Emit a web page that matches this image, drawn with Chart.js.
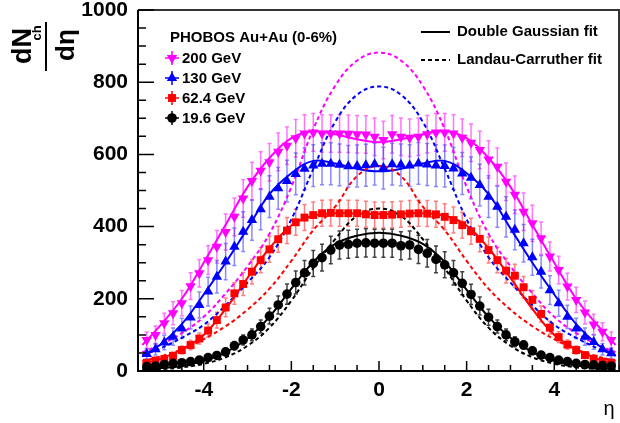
<!DOCTYPE html>
<html>
<head>
<meta charset="utf-8">
<script src="https://cdn.jsdelivr.net/npm/chart.js@4.4.0/dist/chart.umd.min.js"></script>
<style>
html, body { margin: 0; padding: 0; background: #fff; }
</style>
</head>
<body>
<canvas id="c" width="620" height="423"></canvas>
<script>
// bin centres in eta
const eta = [-5.3,-5.1,-4.9,-4.7,-4.5,-4.3,-4.1,-3.9,-3.7,-3.5,-3.3,-3.1,-2.9,-2.7,-2.5,-2.3,-2.1,-1.9,-1.7,-1.5,-1.3,-1.1,-0.9,-0.7,-0.5,-0.3,-0.1,
             0.1,0.3,0.5,0.7,0.9,1.1,1.3,1.5,1.7,1.9,2.1,2.3,2.5,2.7,2.9,3.1,3.3,3.5,3.7,3.9,4.1,4.3,4.5,4.7,4.9,5.1,5.3];

const gev200 = [86,100,132,160,188,235,271,307,344,385,427,478,526,555,578,607,624,645,658,661,658,658,658,657,656,655,649,
                640,656,649,646,649,656,661,661,658,646,632,612,586,566,524,488,441,409,368,317,280,234,197,162,129,109,86];
const gev130 = [47,60,79,95,118,148,183,220,261,303,344,386,418,448,483,506,526,546,560,569,574,574,571,567,568,570,573,
                562,573,571,569,575,572,569,568,561,547,535,515,483,455,427,391,354,315,275,224,188,150,118,95,80,60,49];
const gev62 = [23,29,33,42,58,72,90,112,141,176,215,241,275,307,337,365,389,412,425,432,437,438,437,437,437,434,432,
               432,433,434,436,437,436,434,427,418,404,387,366,335,307,278,264,232,197,158,120,94,73,58,44,34,26,23];
const gev19 = [12,14,18,21,23,26,30,37,43,53,70,86,100,123,152,183,213,245,272,298,314,335,349,351,354,355,354,
               354,354,347,349,337,326,309,294,272,243,212,180,149,123,100,81,72,56,44,37,30,26,21,18,17,15,14];

// systematic errors
const err200 = [22,25,28,32,35,37,38,40,45,50,52,52,52,52,52,52,52,52,52,52,52,52,52,52,52,52,52,
                52,52,52,52,52,52,52,52,52,52,52,52,52,52,52,52,52,50,45,40,38,37,35,32,28,25,22];
const err130 = [14,16,20,24,28,32,36,40,45,50,52,55,56,57,58,58,58,58,58,58,58,58,58,58,58,58,58,
                58,58,58,58,58,58,58,58,58,58,58,58,58,57,56,55,52,50,45,40,36,32,28,24,20,16,14];
const err62 = [6,7,8,9,11,13,15,18,22,26,30,32,34,35,36,36,36,36,36,36,36,36,36,36,36,36,36,
               36,36,36,36,36,36,36,36,36,36,36,36,36,35,34,32,30,26,22,18,15,13,11,9,8,7,6];
const err19 = [3,3,4,4,5,5,6,7,8,10,12,14,16,18,22,25,28,32,34,36,37,38,39,39,39,39,39,
               39,39,39,39,39,38,37,36,34,32,28,25,22,18,16,14,12,10,8,7,6,5,5,4,4,3,3];

// fit curves
const fitEta = [-5.4,-5,-4.5,-4,-3.5,-3,-2.5,-2,-1.5,-1,-0.5,0,0.5,1,1.5,2,2.5,3,3.5,4,4.5,5,5.4];
const dg200 = [72,125,200,300,405,510,590,645,664,656,642,634,642,656,664,645,590,510,405,300,200,125,72];
const lc200 = [52,72,105,150,215,290,380,510,670,790,860,882,860,790,670,510,380,290,215,150,105,72,52];
const dg130 = [42,72,130,212,300,395,490,548,582,575,560,553,560,575,582,548,490,395,300,212,130,72,42];
const lc130 = [44,62,92,128,182,245,315,420,560,690,765,788,765,690,560,420,315,245,182,128,92,62,44];
const dg62 = [20,33,60,100,172,258,340,403,430,437,436,435,436,437,430,403,340,258,172,100,60,33,20];
const lc62 = [27,40,60,88,124,170,228,305,390,455,540,568,540,455,390,305,228,170,124,88,60,40,27];
const dg19 = [5,8,14,28,52,90,150,228,302,352,375,383,375,352,302,225,150,92,52,28,15,8,5];
const lc19 = [3,5,10,20,38,70,120,195,285,365,430,450,430,365,285,195,120,70,38,20,10,5,3];

const labels = ['200 GeV', '130 GeV', '62.4 GeV', '19.6 GeV'];
const xTicks = [-4, -2, 0, 2, 4];
const yTicks = [0, 200, 400, 600, 800, 1000];

const FONT = '"Liberation Sans", Arial, sans-serif';

const series = [
    { label: labels[3], vals: gev19, err: err19, color: '#000000', errColor: 'rgba(0,0,0,0.75)', style: 'circle', rot: 0, r: 4.8 },
    { label: labels[2], vals: gev62, err: err62, color: '#ff0000', errColor: 'rgba(255,40,40,0.6)', style: 'rect', rot: 0, r: 5.6 },
    { label: labels[1], vals: gev130, err: err130, color: '#0000ff', errColor: 'rgba(40,40,255,0.55)', style: 'triangle', rot: 0, r: 6 },
    { label: labels[0], vals: gev200, err: err200, color: '#ff00ff', errColor: 'rgba(255,0,255,0.55)', style: 'triangle', rot: 180, r: 6 }
];
const fits = [
    { vals: dg19, color: '#000000', dash: [] }, { vals: lc19, color: '#000000', dash: [4, 3] },
    { vals: dg62, color: '#ff0000', dash: [] }, { vals: lc62, color: '#ff0000', dash: [4, 3] },
    { vals: dg130, color: '#0000ff', dash: [] }, { vals: lc130, color: '#0000ff', dash: [4, 3] },
    { vals: dg200, color: '#ff00ff', dash: [] }, { vals: lc200, color: '#ff00ff', dash: [4, 3] }
];

const datasets = [];
series.forEach(s => {
    datasets.push({
        label: s.label,
        data: eta.map((e, i) => ({ x: e, y: s.vals[i] })),
        errors: s.err,
        errColor: s.errColor,
        showLine: false,
        pointStyle: s.style,
        pointRotation: s.rot,
        pointRadius: s.r,
        backgroundColor: s.color,
        borderColor: s.color,
        borderWidth: 0,
        order: 0
    });
});
fits.forEach(f => {
    datasets.push({
        data: fitEta.map((e, i) => ({ x: e, y: f.vals[i] })),
        showLine: true,
        pointRadius: 0,
        borderColor: f.color,
        borderWidth: 2,
        borderDash: f.dash,
        tension: 0.4,
        fill: false,
        order: 1
    });
});

function marker(ctx, style, x, y, r, rot, color) {
    ctx.fillStyle = color;
    ctx.beginPath();
    if (style === 'circle') {
        ctx.arc(x, y, r, 0, Math.PI * 2);
    } else if (style === 'rect') {
        const h = r * Math.SQRT1_2;
        ctx.rect(x - h, y - h, 2 * h, 2 * h);
    } else {
        let a = rot * Math.PI / 180;
        for (let k = 0; k < 3; k++) {
            const px = x + Math.sin(a) * r, py = y - Math.cos(a) * r;
            k ? ctx.lineTo(px, py) : ctx.moveTo(px, py);
            a += 2 * Math.PI / 3;
        }
        ctx.closePath();
    }
    ctx.fill();
}

const errorBars = {
    id: 'errorBars',
    beforeDatasetsDraw(chart) {
        const { ctx, chartArea: a, scales: { x, y } } = chart;
        ctx.save();
        ctx.beginPath();
        ctx.rect(a.left, a.top, a.right - a.left, a.bottom - a.top);
        ctx.clip();
        ctx.lineWidth = 1.5;
        chart.data.datasets.slice().reverse().forEach(ds => {
            if (!ds.errors) return;
            ctx.strokeStyle = ds.errColor;
            ds.data.forEach((p, i) => {
                const px = x.getPixelForValue(p.x);
                const t = y.getPixelForValue(p.y + ds.errors[i]);
                const b = y.getPixelForValue(p.y - ds.errors[i]);
                ctx.beginPath();
                ctx.moveTo(px, t); ctx.lineTo(px, b);
                ctx.moveTo(px - 2, t); ctx.lineTo(px + 2, t);
                ctx.moveTo(px - 2, b); ctx.lineTo(px + 2, b);
                ctx.stroke();
            });
        });
        ctx.restore();
    }
};

const decor = {
    id: 'decor',
    afterDraw(chart) {
        const { ctx, chartArea: a, scales: { x, y } } = chart;
        ctx.save();
        // frame
        ctx.strokeStyle = '#333';
        ctx.lineWidth = 2;
        ctx.beginPath();
        ctx.moveTo(a.left, a.top); ctx.lineTo(a.right - 1, a.top); ctx.lineTo(a.right - 1, a.bottom);
        ctx.stroke();
        ctx.strokeStyle = '#000';
        ctx.beginPath();
        ctx.moveTo(a.left, a.top); ctx.lineTo(a.left, a.bottom); ctx.lineTo(a.right, a.bottom);
        ctx.stroke();
        // ticks (inside, ROOT style)
        ctx.lineWidth = 1.5;
        ctx.beginPath();
        for (let v = -5.5; v <= 5.5; v += 0.5) {
            const px = x.getPixelForValue(v);
            const len = xTicks.includes(v) ? 10 : 6;
            ctx.moveTo(px, a.bottom); ctx.lineTo(px, a.bottom - len);
        }
        for (let v = 0; v <= 1000; v += 50) {
            const py = y.getPixelForValue(v);
            const len = yTicks.includes(v) ? 16 : 8;
            ctx.moveTo(a.left, py); ctx.lineTo(a.left + len, py);
        }
        ctx.stroke();

        ctx.fillStyle = '#000';
        // y title: dN_ch / d eta
        ctx.textAlign = 'center';
        ctx.textBaseline = 'alphabetic';
        ctx.save(); ctx.translate(31, 46); ctx.rotate(-Math.PI / 2);
        ctx.font = 'bold 27px ' + FONT; ctx.fillText('dN', 0, 0); ctx.restore();
        ctx.save(); ctx.translate(41, 33); ctx.rotate(-Math.PI / 2);
        ctx.font = 'bold 13px ' + FONT; ctx.fillText('ch', 0, 0); ctx.restore();
        ctx.save(); ctx.translate(74, 45); ctx.rotate(-Math.PI / 2);
        ctx.font = 'bold 26px ' + FONT; ctx.fillText('d\u03b7', 0, 0); ctx.restore();
        ctx.lineWidth = 2;
        ctx.beginPath(); ctx.moveTo(46, 22); ctx.lineTo(46, 71); ctx.stroke();

        // x title
        ctx.font = '20px ' + FONT;
        ctx.textBaseline = 'middle';
        ctx.fillText('\u03b7', 609, 409);

        // data legend
        ctx.textAlign = 'left';
        ctx.font = 'bold 15px ' + FONT;
        ctx.fillText('PHOBOS Au+Au (0-6%)', 170, 38);
        const ly = [58, 78, 98, 118];
        const order = [3, 2, 1, 0];
        order.forEach((si, k) => {
            const s = series[si];
            const yy = ly[k];
            ctx.strokeStyle = s.color;
            ctx.lineWidth = 1.5;
            ctx.beginPath();
            ctx.moveTo(165, yy); ctx.lineTo(179, yy);
            ctx.moveTo(172, yy - 7); ctx.lineTo(172, yy + 7);
            ctx.stroke();
            marker(ctx, s.style, 172, yy, s.r, s.rot, s.color);
            ctx.fillStyle = '#000';
            ctx.fillText(s.label, 182, yy + 1);
        });

        // fit legend
        ctx.strokeStyle = '#000';
        ctx.lineWidth = 2;
        ctx.beginPath(); ctx.moveTo(421, 32); ctx.lineTo(450, 32); ctx.stroke();
        ctx.setLineDash([4, 3]);
        ctx.beginPath(); ctx.moveTo(421, 60); ctx.lineTo(450, 60); ctx.stroke();
        ctx.setLineDash([]);
        ctx.fillText('Double Gaussian fit', 457, 32);
        ctx.fillText('Landau-Carruther fit', 457, 60);
        ctx.restore();
    }
};

new Chart(document.getElementById('c'), {
    type: 'scatter',
    data: { datasets },
    options: {
        responsive: false,
        animation: false,
        devicePixelRatio: 1,
        layout: { autoPadding: false, padding: { top: 10, right: 0, left: 0, bottom: 0 } },
        plugins: { legend: { display: false }, tooltip: { enabled: false } },
        scales: {
            x: {
                type: 'linear', min: -5.5, max: 5.5,
                grid: { display: false, drawTicks: false },
                border: { display: false },
                afterBuildTicks: s => { s.ticks = xTicks.map(v => ({ value: v })); },
                afterFit: s => { s.height = 52; s.paddingLeft = 0; s.paddingRight = 0; },
                ticks: { color: '#000', padding: 7, font: { family: FONT, weight: 'bold', size: 21 },
                         callback: v => String(v) }
            },
            y: {
                min: 0, max: 1000,
                grid: { display: false, drawTicks: false },
                border: { display: false },
                afterBuildTicks: s => { s.ticks = yTicks.map(v => ({ value: v })); },
                afterFit: s => { s.width = 138; s.paddingTop = 0; s.paddingBottom = 0; },
                ticks: { color: '#000', padding: 10, font: { family: FONT, weight: 'bold', size: 21 },
                         callback: v => String(v) }
            }
        }
    },
    plugins: [errorBars, decor]
});
</script>
</body>
</html>
